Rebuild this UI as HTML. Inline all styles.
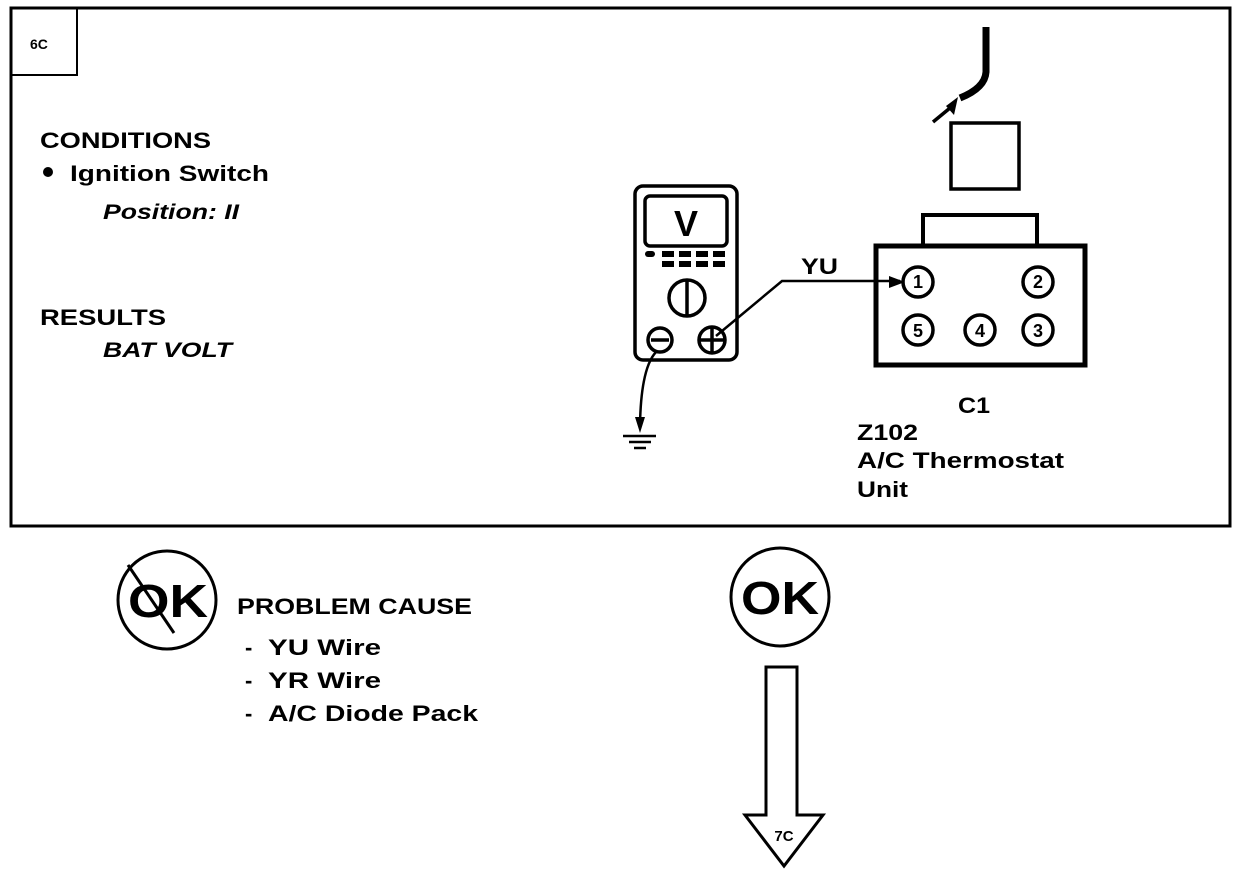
<!DOCTYPE html>
<html><head><style>body{margin:0;background:#fff}svg{display:block}text{font-family:"Liberation Sans",sans-serif;font-weight:bold;fill:#000}</style></head><body>
<svg width="1248" height="874" viewBox="0 0 1248 874">
<rect x="11" y="8" width="1219" height="518" fill="none" stroke="#000" stroke-width="3"/>
<rect x="11" y="8" width="66" height="67" fill="none" stroke="#000" stroke-width="2"/>
<text x="30" y="49" font-size="14">6C</text>
<g lengthAdjust="spacingAndGlyphs">
<text x="40" y="148" font-size="22" textLength="171" lengthAdjust="spacingAndGlyphs">CONDITIONS</text>
<text x="70" y="181" font-size="22" textLength="199" lengthAdjust="spacingAndGlyphs">Ignition Switch</text>
<text x="103" y="219" font-size="21" font-style="italic" font-weight="normal" textLength="136" lengthAdjust="spacingAndGlyphs">Position: II</text>
<text x="40" y="325" font-size="22" textLength="126" lengthAdjust="spacingAndGlyphs">RESULTS</text>
<text x="103" y="357" font-size="21" font-style="italic" font-weight="normal" textLength="129" lengthAdjust="spacingAndGlyphs">BAT VOLT</text>
</g>
<circle cx="48" cy="172" r="5"/>
<g fill="none" stroke="#000" stroke-width="3.5">
<rect x="635" y="186" width="102" height="174" rx="8"/>
<rect x="645" y="196" width="82" height="50" rx="5"/>
<circle cx="687" cy="298" r="18"/><line x1="687" y1="281" x2="687" y2="316"/>
<circle cx="660" cy="340" r="12"/><line x1="651" y1="340" x2="669" y2="340"/>
<circle cx="712" cy="340" r="13"/><line x1="699" y1="340" x2="725" y2="340"/><line x1="712" y1="327" x2="712" y2="353"/>
<polyline points="716,336 782,281 900,281" stroke-width="2.5"/>
<path d="M656,352 Q641,368 640,425" stroke-width="2.5"/>
<rect x="876" y="246" width="209" height="119" stroke-width="5"/>
<rect x="923" y="215" width="114" height="31" stroke-width="4"/>
<rect x="951" y="123" width="68" height="66" stroke-width="3.5"/>
<path d="M986,27 L986,72 Q985,88 960,98" stroke-width="7"/>
<line x1="933" y1="122" x2="950" y2="108" stroke-width="3.5"/>
<circle cx="918" cy="282" r="15"/><circle cx="1038" cy="282" r="15"/>
<circle cx="918" cy="330" r="15"/><circle cx="980" cy="330" r="15"/><circle cx="1038" cy="330" r="15"/>
</g>
<polygon points="958,97 946,106 954,115"/>
<polygon points="905,282 889,276 889,288"/>
<polygon points="640,433 635,417 645,417"/>
<g stroke="#000" stroke-width="2.5"><line x1="623" y1="436" x2="656" y2="436"/><line x1="629" y1="442" x2="651" y2="442"/><line x1="634" y1="448" x2="646" y2="448"/></g>
<g fill="#000"><rect x="645" y="251" width="10" height="6" rx="3"/><rect x="662" y="251" width="12" height="6"/><rect x="679" y="251" width="12" height="6"/><rect x="696" y="251" width="12" height="6"/><rect x="713" y="251" width="12" height="6"/>
<rect x="662" y="261" width="12" height="6"/><rect x="679" y="261" width="12" height="6"/><rect x="696" y="261" width="12" height="6"/><rect x="713" y="261" width="12" height="6"/></g>
<text x="686" y="236" font-size="36" text-anchor="middle">V</text>
<text x="801" y="274" font-size="22" textLength="37" lengthAdjust="spacingAndGlyphs">YU</text>
<g font-size="18" text-anchor="middle"><text x="918" y="288">1</text><text x="1038" y="288">2</text><text x="918" y="337">5</text><text x="980" y="337">4</text><text x="1038" y="337">3</text></g>
<text x="958" y="413" font-size="22" textLength="32" lengthAdjust="spacingAndGlyphs">C1</text>
<text x="857" y="440" font-size="22" textLength="61" lengthAdjust="spacingAndGlyphs">Z102</text>
<text x="857" y="468" font-size="22" textLength="207" lengthAdjust="spacingAndGlyphs">A/C Thermostat</text>
<text x="857" y="497" font-size="22" textLength="51" lengthAdjust="spacingAndGlyphs">Unit</text>
<circle cx="167" cy="600" r="49" fill="none" stroke="#000" stroke-width="3"/>
<text x="128" y="617" font-size="46" textLength="80" lengthAdjust="spacingAndGlyphs">OK</text>
<line x1="128" y1="565" x2="174" y2="633" stroke="#000" stroke-width="3"/>
<text x="237" y="614" font-size="22" textLength="235" lengthAdjust="spacingAndGlyphs">PROBLEM CAUSE</text>
<g font-size="22"><text x="245" y="655">-</text><text x="268" y="655" textLength="113" lengthAdjust="spacingAndGlyphs">YU  Wire</text>
<text x="245" y="688">-</text><text x="268" y="688" textLength="113" lengthAdjust="spacingAndGlyphs">YR  Wire</text>
<text x="245" y="721">-</text><text x="268" y="721" textLength="210" lengthAdjust="spacingAndGlyphs">A/C Diode Pack</text></g>
<circle cx="780" cy="597" r="49" fill="none" stroke="#000" stroke-width="3"/>
<text x="741" y="614" font-size="46" textLength="78" lengthAdjust="spacingAndGlyphs">OK</text>
<polygon points="766,667 797,667 797,815 823,815 784,866 745,815 766,815" fill="none" stroke="#000" stroke-width="3"/>
<text x="784" y="841" font-size="15" text-anchor="middle">7C</text>
</svg>
</body></html>
